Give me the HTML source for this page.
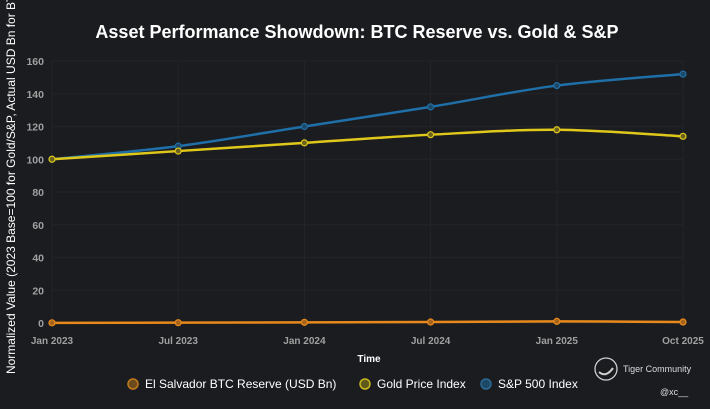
<!DOCTYPE html>
<html><head><meta charset="utf-8"><style>
html,body{margin:0;padding:0;background:#1b1c20;}
svg{display:block;font-family:"Liberation Sans",Arial,sans-serif;}
</style></head><body>
<svg id="c" width="710" height="409" viewBox="0 0 710 409">
<rect width="710" height="409" fill="#1b1c20"/>
<text x="357" y="38" text-anchor="middle" fill="#ffffff" font-size="18" font-weight="bold">Asset Performance Showdown: BTC Reserve vs. Gold &amp; S&amp;P</text>
<g id="grid"></g>
<g id="yt"></g>
<g id="xt"></g>
<g id="series"></g>
<text x="369" y="362" text-anchor="middle" fill="#ffffff" font-size="10" font-weight="bold">Time</text>
<text transform="translate(15,178) rotate(-90)" text-anchor="middle" fill="#ffffff" font-size="12">Normalized Value (2023 Base=100 for Gold/S&amp;P, Actual USD Bn for BTC)</text>
<g>
<g><circle cx="133" cy="384" r="5" fill="#6b4a1c" stroke="#c27a1e" stroke-width="1.5"/><text x="145" y="388" fill="#ffffff" font-size="12">El Salvador BTC Reserve (USD Bn)</text></g>
<g><circle cx="365" cy="384" r="5" fill="#5d5a1c" stroke="#c9b81e" stroke-width="1.5"/><text x="377" y="388" fill="#ffffff" font-size="12">Gold Price Index</text></g>
<g><circle cx="486" cy="384" r="5" fill="#1d4866" stroke="#2a6a95" stroke-width="1.5"/><text x="498" y="388" fill="#ffffff" font-size="12">S&amp;P 500 Index</text></g>
</g>
<g>
<circle cx="606" cy="369" r="11" fill="none" stroke="#cfcfcf" stroke-width="1.3"/>
<path d="M599,372 q7,6 14,-4" fill="none" stroke="#cfcfcf" stroke-width="2"/>
<text x="623" y="372" fill="#dddddd" font-size="9">Tiger Community</text>
<text x="660" y="395" fill="#dddddd" font-size="9">@xc__</text>
</g>
</svg>
<script>
const categories=["Jan 2023","Jul 2023","Jan 2024","Jul 2024","Jan 2025","Oct 2025"];
const btcValues=[0.1,0.2,0.4,0.6,1.0,0.6];
const goldValues=[100,105,110,115,118,114];
const spValues=[100,108,120,132,145,152];
const yTicks=[0,20,40,60,80,100,120,140,160];
const X0=52,X1=683,Y0=323,Y1=61,YMAX=160;
const xs=i=>X0+(X1-X0)*i/(categories.length-1);
const ys=v=>Y0-(Y0-Y1)*v/YMAX;
const NS="http://www.w3.org/2000/svg";
function mk(t,a,p){const e=document.createElementNS(NS,t);for(const k in a)e.setAttribute(k,a[k]);p.appendChild(e);return e;}
const grid=document.getElementById('grid'),yt=document.getElementById('yt'),xt=document.getElementById('xt'),ser=document.getElementById('series');
yTicks.forEach(v=>{const l=mk('line',{x1:X0,x2:X1,y1:ys(v),y2:ys(v),stroke:'#232429','stroke-width':1},grid);


const t=mk('text',{x:44,y:ys(v)+4,'text-anchor':'end',fill:'#a0a0a0','font-size':10.5,'font-weight':'bold'},yt);t.textContent=v;

});
categories.forEach((c,i)=>{const l=mk('line',{x1:xs(i),x2:xs(i),y1:Y1,y2:Y0,stroke:'#232429','stroke-width':1},grid);


const t=mk('text',{x:xs(i),y:344,'text-anchor':'middle',fill:'#a0a0a0','font-size':10,'font-weight':'bold'},xt);t.textContent=c;

});
function path(vals){const p=vals.map((v,i)=>[xs(i),ys(v)]);let d='M'+p[0][0]+','+p[0][1];
for(let i=0;i<p.length-1;i++){const a=p[i-1]||p[i],b=p[i],c=p[i+1],e=p[i+2]||c;
d+=` C${b[0]+(c[0]-a[0])/6},${b[1]+(c[1]-a[1])/6} ${c[0]-(e[0]-b[0])/6},${c[1]-(e[1]-b[1])/6} ${c[0]},${c[1]}`;}return d;}
function draw(vals,col,fill,name){const g=mk('g',{},ser);


const pa=mk('path',{d:path(vals),fill:'none',stroke:col,'stroke-width':2.5},g);


vals.forEach((v,i)=>{const c=mk('circle',{cx:xs(i),cy:ys(v),r:3,fill:fill,stroke:col,'stroke-width':1.2},g);

});}
draw(spValues,'#1f6fa8','#1d4866','sp500-series');
draw(goldValues,'#e0c81a','#6b6220','gold-series');
draw(btcValues,'#e8891c','#a5641c','btc-series');
</script>
</body></html>
